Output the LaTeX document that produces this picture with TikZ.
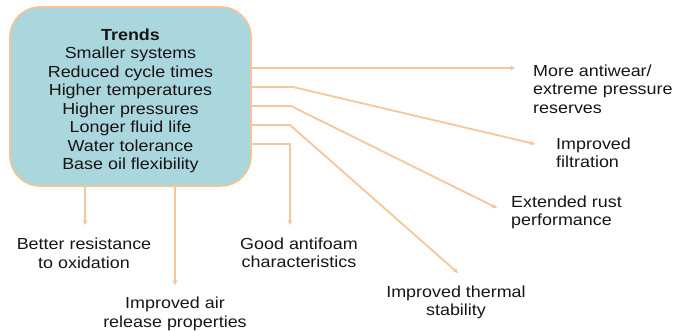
\documentclass[tikz,border=0pt]{standalone}
\usepackage{fontspec}
\setmainfont{Liberation Sans}[FakeStretch=1.12]
\usetikzlibrary{arrows.meta}

\definecolor{trendfill}{RGB}{170,214,221}
\definecolor{trendline}{RGB}{242,196,150}
\definecolor{linkcol}{RGB}{244,198,156}
\definecolor{inkcol}{RGB}{25,20,20}

\tikzset{
	link/.style={draw=linkcol, line width=1.8pt, -{Stealth[length=5pt,width=5pt]}},
	effect/.style={inner sep=0pt}
}

\begin{document}
\begin{tikzpicture}[x=1pt, y=-1pt, every node/.style={font=\fontsize{16}{18.5}\selectfont, text=inkcol}]
	
	\useasboundingbox (0,0) rectangle (689,330);
	
	% --- trends box ---
	\node[draw=trendline, fill=trendfill, line width=1.6pt, rounded corners=30pt,
	minimum width=241pt, minimum height=179pt, align=center] (trends) at (130.5,96.5)
	{\rule{0pt}{20pt}\textbf{Trends}\\Smaller systems\\Reduced cycle times\\Higher temperatures\\
		Higher pressures\\Longer fluid life\\Water tolerance\\Base oil flexibility};
	
	% --- bends and arrow tips ---
	\coordinate (tip1) at (515,68);
	\coordinate (k2)   at (293,87);
	\coordinate (tip2) at (535,144);
	\coordinate (k3)   at (291,106);
	\coordinate (tip3) at (497,208);
	\coordinate (k4)   at (290,125);
	\coordinate (tip4) at (458,273);
	\coordinate (k5)   at (290,144);
	\coordinate (tip5) at (290,225);
	\coordinate (tip6) at (85,225);
	\coordinate (tip7) at (175,285);
	
	% --- effects ---
	\node[effect, anchor=west, align=left] (antiwear) at (533,89)
	{More antiwear/\\extreme pressure\\reserves};
	\node[effect, anchor=west, align=left] (filtration) at (556,153)
	{Improved\\filtration};
	\node[effect, anchor=west, align=left] (rust) at (511,212.5)
	{Extended rust\\performance};
	\node[effect, align=center] (thermal) at (456,302.5)
	{Improved thermal\\stability};
	\node[effect, align=center] (antifoam) at (299,253)
	{Good antifoam\\characteristics};
	\node[effect, align=center] (oxidation) at (84,253.5)
	{Better resistance\\to oxidation};
	\node[effect, align=center] (airrel) at (175,314)
	{Improved air\\release properties};
	
	% --- connectors ---
	\draw[link] (trends.east |- tip1) -- (tip1);
	\draw[link] (trends.east |- k2) -- (k2) -- (tip2);
	\draw[link] (trends.east |- k3) -- (k3) -- (tip3);
	\draw[link] (trends.east |- k4) -- (k4) -- (tip4);
	\draw[link] (trends.east |- k5) -- (k5) -- (tip5);
	\draw[link] (trends.south -| tip6) -- (tip6);
	\draw[link] (trends.south -| tip7) -- (tip7);
	
\end{tikzpicture}
\end{document}
